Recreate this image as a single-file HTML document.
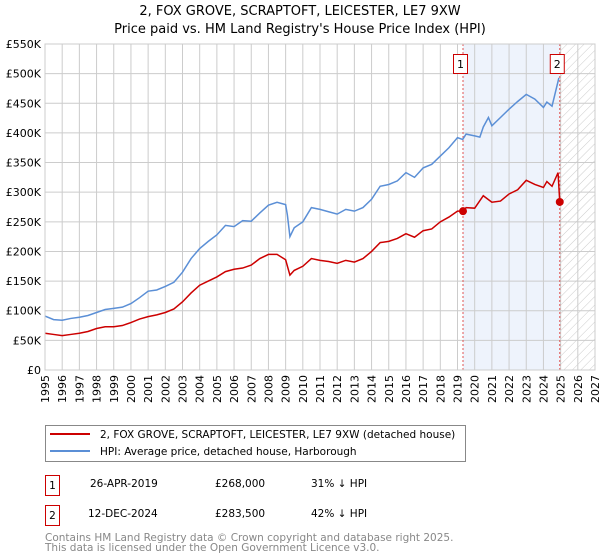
<!DOCTYPE html>
<html><head><meta charset="utf-8"><style>
body{margin:0;background:#fff;font-family:"DejaVu Sans","Liberation Sans",sans-serif;}
svg{display:block}
text{font-family:"DejaVu Sans","Liberation Sans",sans-serif;}
</style></head><body>
<svg id="chart" width="600" height="560" viewBox="0 0 600 560" xmlns="http://www.w3.org/2000/svg">
<defs>
<pattern id="hatch" patternUnits="userSpaceOnUse" width="6" height="6" patternTransform="rotate(45)">
<line x1="0" y1="0" x2="0" y2="6" stroke="#ccc" stroke-width="1"/></pattern>
</defs>
<text x="300" y="15" text-anchor="middle" font-size="13">2, FOX GROVE, SCRAPTOFT, LEICESTER, LE7 9XW</text>
<text x="300" y="33" text-anchor="middle" font-size="13">Price paid vs. HM Land Registry's House Price Index (HPI)</text>
<g id="plot"></g>
<rect x="45.5" y="425.5" width="420" height="36" fill="#fff" stroke="#888"/>
<line x1="50" y1="434" x2="90" y2="434" stroke="#cc0000" stroke-width="2"/>
<text x="100" y="438" font-size="10.5">2, FOX GROVE, SCRAPTOFT, LEICESTER, LE7 9XW (detached house)</text>
<line x1="50" y1="451" x2="90" y2="451" stroke="#5b8fd6" stroke-width="2"/>
<text x="100" y="455" font-size="10.5">HPI: Average price, detached house, Harborough</text>
<g font-size="10.5">
<rect x="45.5" y="475.5" width="14" height="20" fill="none" stroke="#cc0000"/><text x="52.5" y="489" text-anchor="middle">1</text>
<text x="90" y="487">26-APR-2019</text><text x="215" y="487">£268,000</text><text x="311" y="487">31% ↓ HPI</text></g>
<g font-size="10.5">
<rect x="45.5" y="505.5" width="14" height="20" fill="none" stroke="#cc0000"/><text x="52.5" y="519" text-anchor="middle">2</text>
<text x="88" y="517">12-DEC-2024</text><text x="215" y="517">£283,500</text><text x="311" y="517">42% ↓ HPI</text></g>
<text x="45" y="541" font-size="10.5" fill="#888">Contains HM Land Registry data © Crown copyright and database right 2025.</text>
<text x="45" y="551" font-size="10.5" fill="#888">This data is licensed under the Open Government Licence v3.0.</text>
</svg>
<script>
const yTicks=[0,50,100,150,200,250,300,350,400,450,500,550];
const yTickLabels=["£0","£50K","£100K","£150K","£200K","£250K","£300K","£350K","£400K","£450K","£500K","£550K"];
const xYears=[1995,1996,1997,1998,1999,2000,2001,2002,2003,2004,2005,2006,2007,2008,2009,2010,2011,2012,2013,2014,2015,2016,2017,2018,2019,2020,2021,2022,2023,2024,2025,2026,2027];
const hpiDates=[1995,1995.5,1996,1996.5,1997,1997.5,1998,1998.5,1999,1999.5,2000,2000.5,2001,2001.5,2002,2002.5,2003,2003.5,2004,2004.5,2005,2005.5,2006,2006.5,2007,2007.5,2008,2008.5,2009,2009.1,2009.25,2009.5,2010,2010.5,2011,2011.5,2012,2012.5,2013,2013.5,2014,2014.5,2015,2015.5,2016,2016.5,2017,2017.5,2018,2018.5,2019,2019.3,2019.5,2020,2020.3,2020.5,2020.8,2021,2021.5,2022,2022.5,2023,2023.5,2024,2024.2,2024.5,2024.9];
const hpiValues=[91,85,84,87,89,92,97,102,104,106,112,122,133,135,141,148,165,188,205,217,228,244,242,252,251,265,278,283,279,262,225,240,250,274,271,267,263,271,268,274,288,310,313,319,333,325,341,347,361,375,392,389,398,395,393,410,426,412,426,440,453,465,457,443,452,445,493];
const priceDates=[1995,1995.5,1996,1996.5,1997,1997.5,1998,1998.5,1999,1999.5,2000,2000.5,2001,2001.5,2002,2002.5,2003,2003.5,2004,2004.5,2005,2005.5,2006,2006.5,2007,2007.5,2008,2008.5,2009,2009.25,2009.5,2010,2010.5,2011,2011.5,2012,2012.5,2013,2013.5,2014,2014.5,2015,2015.5,2016,2016.5,2017,2017.5,2018,2018.5,2019,2019.32,2019.5,2020,2020.5,2021,2021.5,2022,2022.5,2023,2023.5,2024,2024.2,2024.5,2024.85,2024.95];
const priceValues=[62,60,58,60,62,65,70,73,73,75,80,86,90,93,97,103,115,130,143,150,157,166,170,172,177,188,195,195,186,160,168,175,188,185,183,180,185,182,188,200,215,217,222,230,224,235,238,250,258,268,268,274,273,294,283,285,297,304,320,313,308,318,310,333,283.5];
const saleDates=[2019.32,2024.95];
const saleValues=[268,283.5];
const saleLabels=["1","2"];

const X0=45,X1=595,Y0=370,Y1=44;
const xs=d=>X0+(d-1995)/(2027-1995)*(X1-X0);
const ys=v=>Y0-v/550*(Y0-Y1);
const NS="http://www.w3.org/2000/svg";
const plot=document.getElementById('plot');
function mk(tag,attrs,parent){const e=document.createElementNS(NS,tag);for(const k in attrs)e.setAttribute(k,attrs[k]);(parent||plot).appendChild(e);return e;}

const shade=mk('rect',{x:xs(saleDates[0]),y:Y1,width:xs(saleDates[1])-xs(saleDates[0]),height:Y0-Y1,fill:'#eef3fc'});


const hat=mk('rect',{x:xs(2025),y:Y1,width:X1-xs(2025),height:Y0-Y1,fill:'url(#hatch)'});



xYears.forEach(y=>{
  const l=mk('line',{x1:xs(y),x2:xs(y),y1:Y1,y2:Y0,stroke:'#ccc','stroke-width':1});
  
  
  const t=mk('text',{x:0,y:0,'font-size':11,'text-anchor':'end',transform:`translate(${xs(y)+4},${Y0+5}) rotate(-90)`});
  
  
  t.textContent=y;
});
yTicks.forEach((v,i)=>{
  const l=mk('line',{x1:X0,x2:X1,y1:ys(v),y2:ys(v),stroke:'#ccc','stroke-width':1});
  
  
  const t=mk('text',{x:X0-4,y:ys(v)+4,'font-size':11,'text-anchor':'end'});
  
  
  t.textContent=yTickLabels[i];
});
saleDates.forEach((d,i)=>{
  const l=mk('line',{x1:xs(d),x2:xs(d),y1:Y1,y2:Y0,stroke:'#e05555','stroke-width':1,'stroke-dasharray':'2,2'});
  
  
});
const hp=mk('polyline',{points:hpiDates.map((d,i)=>xs(d)+','+ys(hpiValues[i])).join(' '),fill:'none',stroke:'#5b8fd6','stroke-width':1.5});


const pp=mk('polyline',{points:priceDates.map((d,i)=>xs(d)+','+ys(priceValues[i])).join(' '),fill:'none',stroke:'#cc0000','stroke-width':1.5});


saleDates.forEach((d,i)=>{
  const c=mk('circle',{cx:xs(d),cy:ys(saleValues[i]),r:4,fill:'#cc0000'});
  
  
  const b=mk('rect',{x:xs(d)-9.5,y:54.5,width:14,height:19,fill:'#fff',stroke:'#cc0000'});
  
  
  const t=mk('text',{x:xs(d)-2.5,y:68,'font-size':11,'text-anchor':'middle'});
  
  
  t.textContent=saleLabels[i];
});
const fr=mk('rect',{x:X0,y:Y1,width:X1-X0,height:Y0-Y1,fill:'none',stroke:'#ccc'});


</script>
</body></html>
